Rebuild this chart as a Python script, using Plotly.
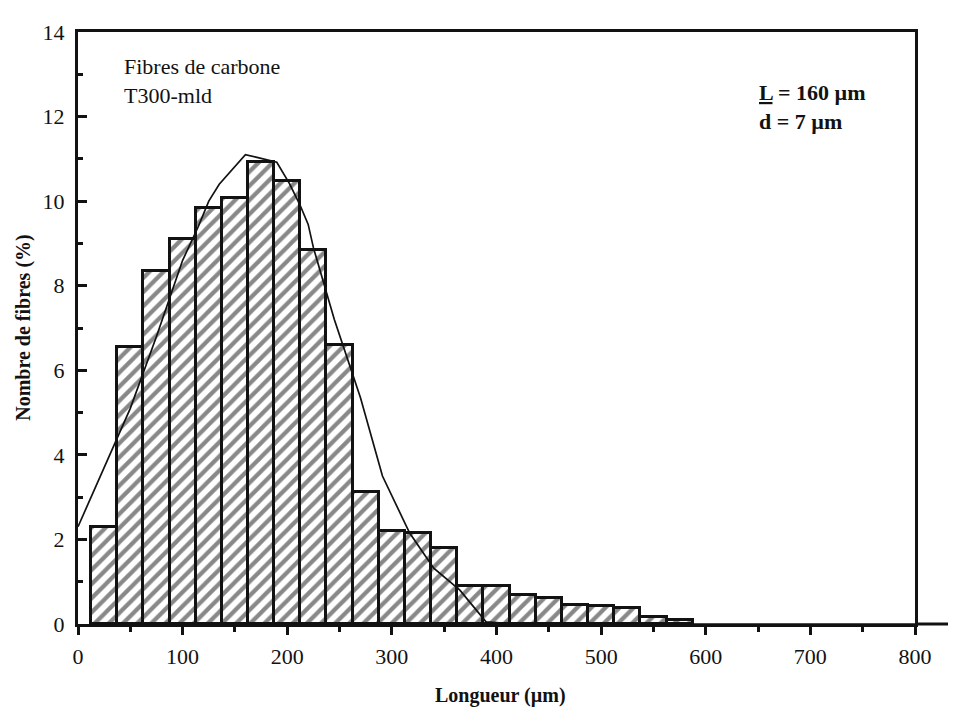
import plotly.graph_objects as go

# Histogram bins (centre of each 25 µm class) and percentages
bin_centers = [25, 50, 75, 100, 125, 150, 175, 200, 225, 250, 275, 300,
               325, 350, 375, 400, 425, 450, 475, 500, 525, 550, 575]
pct_fibres = [2.3, 6.55, 8.35, 9.1, 9.83, 10.07, 10.93, 10.47, 8.85, 6.6, 3.12, 2.2,
              2.15, 1.8, 0.89, 0.89, 0.69, 0.61, 0.46, 0.43, 0.39, 0.16, 0.1]

# Fitted distribution curve
curve_x = [0, 25, 50, 75, 100, 115, 125, 135, 160, 172, 190, 202, 212, 220, 225,
           245, 270, 291, 317, 340, 365, 390, 420, 800]
curve_y = [2.3, 3.7, 5.1, 6.8, 8.6, 9.4, 10.0, 10.4, 11.1, 11.03, 10.92, 10.42, 9.92,
           9.45, 8.9, 7.2, 5.35, 3.5, 2.15, 1.32, 0.8, 0.05, 0, 0]

x_ticks = [0, 100, 200, 300, 400, 500, 600, 700, 800]
y_ticks = [0, 2, 4, 6, 8, 10, 12, 14]

INK = "#121212"
SERIF = "Liberation Serif, Times New Roman, serif"

fig = go.Figure()
fig.add_trace(go.Bar(
    x=bin_centers, y=pct_fibres, width=25,
    marker=dict(color="white", line=dict(color=INK, width=3),
                pattern=dict(shape="/", fgcolor=INK, bgcolor="white",
                             size=10, solidity=0.42)),
    showlegend=False,
))
fig.add_trace(go.Scatter(
    x=curve_x, y=curve_y, mode="lines",
    line=dict(color=INK, width=1.7), showlegend=False, cliponaxis=False,
))

fig.update_layout(
    width=948, height=707,
    margin=dict(l=70, r=41, t=12, b=91),
    paper_bgcolor="white", plot_bgcolor="white",
    bargap=0,
    font=dict(family=SERIF, color=INK, size=22),
    xaxis=dict(range=[0, 800], tickvals=x_ticks, ticks="outside", ticklen=8,
               tickwidth=3, tickcolor=INK, showgrid=False, zeroline=False,
               showline=True, linecolor=INK, linewidth=3, mirror=True,
               minor=dict(dtick=50, ticks="outside", ticklen=5, tickwidth=3,
                          tickcolor=INK, showgrid=False),
               ticklabelstandoff=3, tickfont=dict(size=22, family=SERIF)),
    yaxis=dict(range=[0, 14], tickvals=y_ticks, ticks="inside", ticklen=9,
               tickwidth=3, tickcolor=INK, showgrid=False, zeroline=False,
               showline=True, linecolor=INK, linewidth=3, mirror=True,
               minor=dict(dtick=1, ticks="inside", ticklen=5, tickwidth=3,
                          tickcolor=INK, showgrid=False),
               ticklabelstandoff=6, tickfont=dict(size=22, family=SERIF)),
)

# x axis baseline continues past the frame
fig.add_shape(type="line", xref="paper", yref="paper", x0=1, x1=1.06, y0=0, y1=0,
              line=dict(color=INK, width=3))

fig.add_annotation(text="Fibres de carbone<br>T300-mld", xref="paper", yref="paper",
                   x=0.0526, y=0.967, xanchor="left", yanchor="top", showarrow=False,
                   align="left", font=dict(size=22, family=SERIF, color=INK))
fig.add_annotation(text='<b><span style="text-decoration:underline">L</span> = 160 µm<br>d = 7 µm</b>',
                   xref="paper", yref="paper", x=0.811, y=0.922, xanchor="left",
                   yanchor="top", showarrow=False, align="left",
                   font=dict(size=22, family=SERIF, color=INK))
fig.add_annotation(text="<b>Nombre de fibres (%)</b>", xref="paper", yref="paper",
                   x=-0.066, y=0.5, xanchor="center", yanchor="middle", textangle=-90,
                   showarrow=False, font=dict(size=20, family=SERIF, color=INK))
fig.add_annotation(text="<b>Longueur (µm)</b>", xref="paper", yref="paper",
                   x=0.505, y=-0.121, xanchor="center", yanchor="middle",
                   showarrow=False, font=dict(size=20, family=SERIF, color=INK))

fig.write_html("out.html")
